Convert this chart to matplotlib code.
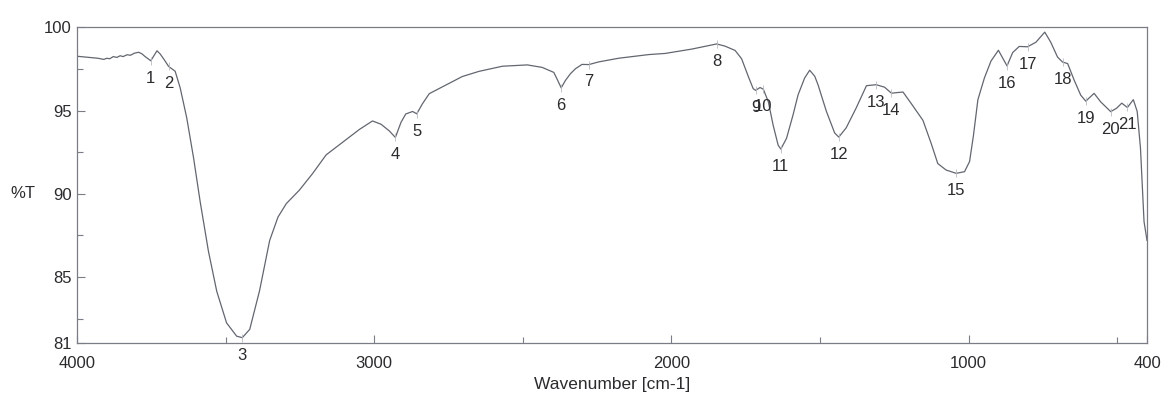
import numpy as np
import matplotlib
matplotlib.use("Agg")
import matplotlib.pyplot as plt

plt.rcParams['font.family'] = ['Liberation Sans', 'DejaVu Sans']

# FTIR spectrum: wavenumber (cm-1) and transmittance (%T)
wavenumber = [
    4000, 3960, 3930, 3910, 3900, 3890, 3878, 3866, 3855, 3845, 3832, 3820,
    3808, 3793, 3782, 3771, 3752, 3740, 3731, 3720, 3707, 3692, 3670, 3653,
    3631, 3608, 3586, 3558, 3530, 3497, 3463, 3444, 3419, 3386, 3352, 3324,
    3296, 3252, 3207, 3162, 3095, 3050, 3006, 2977, 2950, 2929, 2910, 2894,
    2871, 2857, 2838, 2815, 2759, 2704, 2648, 2569, 2485, 2435, 2396, 2385,
    2371, 2357, 2340, 2323, 2301, 2278, 2245, 2211, 2178, 2077, 2021, 1932,
    1848, 1820, 1786, 1764, 1741, 1725, 1717, 1702, 1691, 1674, 1658, 1641,
    1632, 1613, 1591, 1574, 1552, 1535, 1518, 1507, 1479, 1451, 1437, 1412,
    1378, 1344, 1311, 1283, 1260, 1221, 1193, 1154, 1126, 1104, 1076, 1042,
    1014, 997, 984, 969, 947, 925, 900, 886, 871, 852, 830, 802,
    774, 744, 724, 701, 684, 667, 645, 623, 606, 578, 556, 522,
    502, 485, 466, 446, 433, 422, 410, 400,
]
transmittance = [
    98.27, 98.20, 98.15, 98.08, 98.15, 98.12, 98.25, 98.20, 98.30, 98.25, 98.36, 98.33,
    98.45, 98.51, 98.42, 98.25, 98.00, 98.35, 98.60, 98.40, 98.07, 97.66, 97.37, 96.37,
    94.57, 92.16, 89.55, 86.55, 84.14, 82.24, 81.44, 81.35, 81.85, 84.17, 87.19, 88.60,
    89.41, 90.22, 91.23, 92.34, 93.26, 93.87, 94.38, 94.18, 93.79, 93.39, 94.30, 94.80,
    94.95, 94.81, 95.41, 96.02, 96.54, 97.05, 97.36, 97.67, 97.75, 97.60, 97.30, 96.90,
    96.37, 96.81, 97.22, 97.52, 97.78, 97.77, 97.93, 98.04, 98.15, 98.37, 98.44, 98.70,
    99.01, 98.88, 98.62, 98.12, 97.03, 96.32, 96.22, 96.39, 96.29, 95.53, 94.13, 92.92,
    92.69, 93.33, 94.74, 95.95, 96.96, 97.43, 97.07, 96.56, 94.97, 93.66, 93.41, 93.97,
    95.18, 96.50, 96.56, 96.41, 96.05, 96.12, 95.42, 94.42, 93.02, 91.82, 91.43, 91.23,
    91.33, 91.94, 93.50, 95.66, 96.97, 97.98, 98.63, 98.18, 97.69, 98.49, 98.86, 98.84,
    99.11, 99.72, 99.12, 98.22, 97.92, 97.83, 96.83, 95.93, 95.57, 96.04, 95.53, 94.94,
    95.15, 95.45, 95.19, 95.66, 94.95, 92.75, 88.33, 87.20,
]

# Numbered peak positions (cm-1)
peak_numbers = list(range(1, 22))
peak_wavenumbers = [3752, 3692, 3444, 2929, 2857, 2371, 2278, 1848, 1717, 1691,
                    1632, 1437, 1311, 1260, 1042, 871, 802, 684, 606, 522, 466]

x_major = [4000, 3000, 2000, 1000, 400]
x_minor = [3500, 2500, 1500, 500]
y_major = [100, 95, 90, 85, 81]
y_minor = [97.5, 92.5, 87.5, 82.5]

line_col = '#62666f'
spine_col = '#7a7d85'
text_col = '#2b2b2e'
fs = 12

fig = plt.figure(figsize=(11.64, 3.96), dpi=100)
ax = fig.add_axes([0.0662, 0.1326, 0.9192, 0.7980])

ax.plot(wavenumber, transmittance, color=line_col, lw=0.9)

# peak markers and labels
wn_arr = np.array(wavenumber)[::-1]
t_arr = np.array(transmittance)[::-1]
peak_t = np.interp(peak_wavenumbers, wn_arr, t_arr)
ax.plot(peak_wavenumbers, peak_t, ls='none', marker='|', ms=6,
        mew=0.6, color='#b8bbc2')
for n, w, t in zip(peak_numbers, peak_wavenumbers, peak_t):
    ax.annotate(str(n), (w, t), xytext=(0, -12.5), textcoords='offset points',
                ha='center', va='center', fontsize=fs, color=text_col)

ax.set_xlim(4000, 400)
ax.set_ylim(81, 100)
ax.set_xticks(x_major)
ax.set_xticks(x_minor, minor=True)
ax.set_yticks(y_major)
ax.set_yticks(y_minor, minor=True)
ax.set_xticklabels([str(v) for v in x_major])
ax.set_yticklabels([str(v) for v in y_major])

for s in ax.spines.values():
    s.set_color(spine_col)
    s.set_linewidth(0.9)

ax.tick_params(which='both', direction='in', color=spine_col, width=0.8,
               labelcolor=text_col, labelsize=fs)
ax.tick_params(which='major', length=6)
ax.tick_params(which='minor', length=4)
ax.tick_params(axis='x', which='major', pad=9)
ax.tick_params(axis='y', which='major', pad=4)

ax.set_xlabel('Wavenumber [cm-1]', fontsize=12.5, color=text_col, labelpad=4)
ax.set_ylabel('%T', rotation=0, fontsize=fs, color=text_col, va='center', ha='center')
ax.yaxis.set_label_coords(-0.051, (90 - 81) / 19)

fig.savefig('out.png', dpi=100, facecolor='white')
